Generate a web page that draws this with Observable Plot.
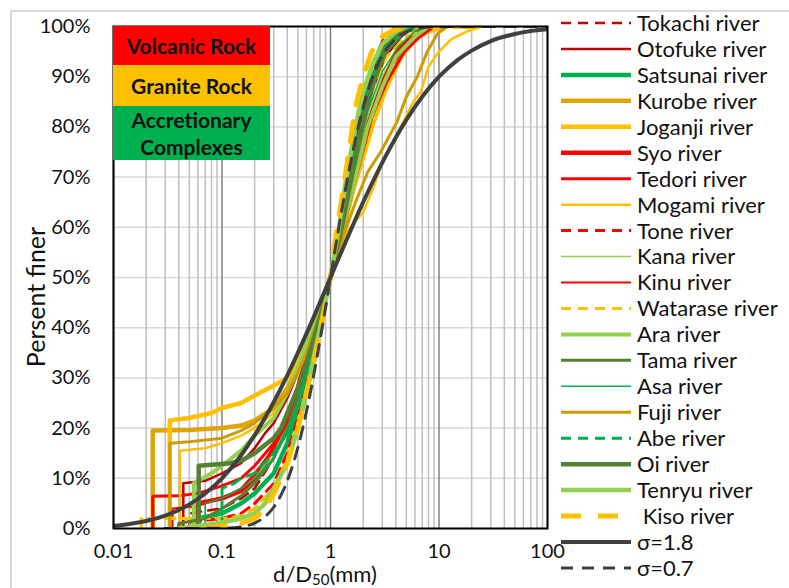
<!DOCTYPE html>
<html><head><meta charset="utf-8">
<script src="https://cdn.jsdelivr.net/npm/d3@7"></script>
<script src="https://cdn.jsdelivr.net/npm/@observablehq/plot@0.6"></script>
<style>
body{margin:0;background:#fff;font-family:Lato,"Open Sans",sans-serif;}
#wrap{position:relative;width:789px;height:588px;overflow:hidden;background:#fff;}
#wrap svg{position:absolute;left:0;top:0;}
.border{position:absolute;left:10px;top:10px;width:900px;height:700px;border-top:2px solid #D9D9D9;border-left:2px solid #D9D9D9;}
.box{position:absolute;left:113px;width:157px;display:flex;align-items:center;justify-content:center;text-align:center;font-weight:bold;font-size:21px;line-height:27px;color:#111;}
.ylab{position:absolute;left:35px;top:297px;transform:translate(-50%,-50%) rotate(-90deg);font-size:25px;line-height:25px;color:#111;white-space:nowrap;}
</style></head><body><div id="wrap"><div class="border"></div></div>
<script>
// ---- data: [d/D50, percent finer] ----
const tokachi = [[0.05,0],[0.05,3],[0.1,4],[0.15,6],[0.2,8],[0.3,14],[0.4,20],[0.5,27],[0.6,33],[0.8,43],[1,50],[1.2,60],[1.5,70],[1.8,80],[2.2,88],[2.8,94],[3.5,98],[4.5,100]];
const otofuke = [[0.044,0],[0.044,9],[0.07,9.5],[0.1,11],[0.15,13],[0.2,16],[0.25,19],[0.3,21],[0.4,26],[0.5,31],[0.6,36],[0.8,44],[1,50],[1.3,62],[1.6,72],[2,81],[2.5,88],[3.2,94],[4.5,98],[6,100]];
const satsunai = [[0.06,0],[0.06,2],[0.1,3],[0.15,5],[0.2,7],[0.3,11],[0.4,17],[0.5,24],[0.6,31],[0.8,42],[1,50],[1.3,62],[1.6,72],[2,82],[2.5,90],[3.2,95],[4.5,98.5],[6,100]];
const kurobe = [[0.023,0],[0.023,19.5],[0.05,19.6],[0.1,20],[0.15,20.5],[0.2,21.5],[0.3,24],[0.4,28],[0.5,32],[0.6,36],[0.8,43],[1,50],[1.3,59],[1.6,68],[2,76],[2.6,85],[3.5,92],[4.5,96],[6,99],[8,100]];
const joganji = [[0.033,0],[0.033,21.5],[0.05,22],[0.08,23],[0.1,24],[0.15,25],[0.2,26.5],[0.3,28.5],[0.4,30],[0.5,33],[0.6,37],[0.8,44],[1,50],[1.3,59],[1.6,67],[2,74],[2.5,81],[3.3,88],[4.5,94],[6,97.5],[8,99],[11,100]];
const syo = [[0.06,0],[0.06,5],[0.1,6],[0.15,7.5],[0.2,10],[0.25,13],[0.3,16],[0.35,19],[0.4,22],[0.5,28],[0.6,34],[0.8,43],[1,50],[1.3,60],[1.6,68],[2,76],[2.5,84],[3.3,91],[4.7,96],[6.5,99],[8,100]];
const tedori = [[0.023,0],[0.023,6.4],[0.04,6.5],[0.06,7],[0.1,8.5],[0.15,10],[0.2,12.5],[0.3,17],[0.4,22],[0.5,28],[0.6,33],[0.8,42],[1,50],[1.3,61],[1.6,70],[2.2,80],[3.3,89],[4.8,95],[6.7,98],[9,100]];
const mogami = [[0.041,0],[0.041,15.5],[0.07,16],[0.1,17],[0.15,18.5],[0.2,20],[0.3,23],[0.4,27],[0.5,31],[0.6,36],[0.8,44],[1,50],[1.4,59],[2,63],[2.5,68],[3,73],[4,78],[5.8,85],[6.8,87],[8,92],[10,95],[13,97.5],[18,99],[25,100]];
const tone = [[0.04,0],[0.04,1],[0.1,2],[0.15,3],[0.2,5],[0.3,9],[0.4,15],[0.5,22],[0.6,29],[0.8,40],[1,50],[1.2,60],[1.4,68],[1.7,78],[2,86],[2.5,93],[3,97],[4,100]];
const kana = [[0.05,0],[0.05,4],[0.1,6],[0.15,8],[0.2,10],[0.3,15],[0.4,21],[0.5,27],[0.6,33],[0.8,42],[1,50],[1.3,61],[1.7,72],[2.2,82],[3,90],[4,95],[5.5,98.5],[7,100]];
const kinu = [[0.035,0],[0.035,4],[0.06,4.5],[0.1,6],[0.15,8],[0.2,11],[0.3,16],[0.4,21],[0.5,27],[0.6,33],[0.8,42],[1,50],[1.3,60],[1.7,71],[2.2,81],[3,89],[4,95],[6,99],[8,100]];
const watarase = [[0.018,0],[0.018,2],[0.03,2],[0.1,2],[0.15,2.5],[0.2,4],[0.3,8],[0.4,14],[0.5,21],[0.6,28],[0.8,40],[1,50],[1.2,59],[1.5,69],[2,80],[2.5,88],[3.3,94],[5,98],[8,100]];
const ara = [[0.055,0],[0.055,9],[0.08,11],[0.1,12.5],[0.15,15.5],[0.2,18.5],[0.3,22],[0.4,27],[0.5,32],[0.6,37],[0.8,44],[1,50],[1.3,60],[1.7,70],[2.2,80],[3,88],[4,94],[6,98],[8,100]];
const tama = [[0.04,0],[0.04,1],[0.07,2],[0.1,4],[0.15,6.5],[0.2,9],[0.3,14],[0.4,20],[0.5,26],[0.6,32],[0.8,42],[1,50],[1.3,62],[1.6,72],[2,82],[2.5,90],[3,95],[4,98.5],[5,100]];
const asa = [[0.07,0],[0.07,5],[0.1,6],[0.15,8],[0.2,10],[0.3,14],[0.4,19],[0.5,25],[0.6,31],[0.8,41],[1,50],[1.3,61],[1.7,73],[2.2,83],[3,91],[4.2,96],[6,99],[8,100]];
const fuji = [[0.033,0],[0.033,17],[0.05,17.3],[0.1,18],[0.15,19.5],[0.2,21],[0.3,24],[0.4,27],[0.5,31],[0.6,35],[0.8,43],[1,50],[1.3,58],[1.7,65],[2.2,71],[2.9,75],[4.1,81],[5,86],[6.3,90],[7.8,95],[9.7,98.6],[12,100]];
const abe = [[0.1,0],[0.1,8],[0.13,9],[0.15,10],[0.2,11],[0.3,15],[0.4,19],[0.5,24],[0.6,30],[0.8,41],[1,50],[1.25,60],[1.5,70],[1.8,80],[2.3,89],[3,95],[4,98.5],[5,100]];
const oi = [[0.061,0],[0.061,12.5],[0.08,12.7],[0.12,13],[0.15,13.5],[0.2,15],[0.3,18],[0.35,20],[0.4,23],[0.5,28],[0.6,33],[0.8,42],[1,50],[1.3,61],[1.6,71],[2,81],[2.5,89],[3.2,95],[4,98],[5,100]];
const tenryu = [[0.04,0],[0.06,0.5],[0.09,1],[0.15,2],[0.2,3],[0.25,5],[0.3,8],[0.4,13],[0.5,20],[0.6,27],[0.7,34],[0.8,40],[1,50],[1.2,60],[1.4,70],[1.7,80],[2,87],[2.5,93],[3,96.5],[4,99],[5,100]];
const kiso = [[0.07,0],[0.1,0.5],[0.15,1],[0.2,2],[0.25,4],[0.3,7],[0.35,10],[0.4,13],[0.5,20],[0.6,27],[0.7,33],[0.8,39],[1,50],[1.15,60],[1.3,67],[1.5,76],[1.7,84],[2,90],[2.4,95],[3,98],[4,99.5],[6,100],[30,100]];
const sigma18 = [[0.01,0.53],[0.012,0.7],[0.015,0.98],[0.02,1.49],[0.03,2.57],[0.05,4.8],[0.07,6.98],[0.1,10.0],[0.15,14.6],[0.2,18.6],[0.3,25.2],[0.4,30.5],[0.5,35.0],[0.7,42.1],[1,50],[1.5,58.9],[2,65.0],[3,72.9],[4,77.9],[5,81.4],[7,86.0],[10,90.0],[15,93.4],[20,95.2],[30,97.1],[50,98.5],[70,99.1],[100,99.47]];
const sigma07 = [[0.03,0],[0.1,0.05],[0.15,0.34],[0.2,1.08],[0.25,2.39],[0.3,4.27],[0.4,9.5],[0.5,16.1],[0.6,23.3],[0.7,30.5],[0.8,37.5],[0.9,44.0],[1,50],[1.2,60.3],[1.5,71.9],[2,83.9],[2.5,90.5],[3,94.2],[4,97.6],[5,98.9],[7,99.73],[10,99.95],[20,100],[100,100]];

const xTickValues = [0.01, 0.1, 1, 10, 100];
const xTickLabels = ["0.01", "0.1", "1", "10", "100"];
const yTickValues = [0,10,20,30,40,50,60,70,80,90,100];
const groupLabels = ["Volcanic Rock", "Granite Rock", "Accretionary Complexes"];

// ---- styles (not data) ----
const series = [
  {name:"Tokachi river", data:tokachi, color:"#C00000", width:2.5, dash:"10,7"},
  {name:"Otofuke river", data:otofuke, color:"#C00000", width:2.5},
  {name:"Satsunai river", data:satsunai, color:"#00B050", width:4.5},
  {name:"Kurobe river", data:kurobe, color:"#DDA50A", width:4.5},
  {name:"Joganji river", data:joganji, color:"#FFC000", width:4.5},
  {name:"Syo river", data:syo, color:"#FF0000", width:4.5},
  {name:"Tedori river", data:tedori, color:"#FF0000", width:3},
  {name:"Mogami river", data:mogami, color:"#FFC000", width:2.5},
  {name:"Tone river", data:tone, color:"#FF0000", width:3, dash:"10,7"},
  {name:"Kana river", data:kana, color:"#92D050", width:1.5},
  {name:"Kinu river", data:kinu, color:"#FF0000", width:2},
  {name:"Watarase river", data:watarase, color:"#FFC000", width:3, dash:"10,7"},
  {name:"Ara river", data:ara, color:"#92D050", width:4},
  {name:"Tama river", data:tama, color:"#548235", width:3},
  {name:"Asa river", data:asa, color:"#00B050", width:1.5},
  {name:"Fuji river", data:fuji, color:"#CC9C00", width:3},
  {name:"Abe river", data:abe, color:"#00B050", width:3, dash:"10,7"},
  {name:"Oi river", data:oi, color:"#548235", width:4.5},
  {name:"Tenryu river", data:tenryu, color:"#92D050", width:4.5},
  {name:" Kiso river", data:kiso, color:"#FFC000", width:5, dash:"20,17"},
  {name:"σ=1.8", data:sigma18, color:"#404040", width:4, curve:"monotone-x"},
  {name:"σ=0.7", data:sigma07, color:"#404040", width:3, dash:"12,9", curve:"monotone-x"}
];

const minorX = d3.range(-2, 2).flatMap(e => d3.range(2, 10).map(m => m * Math.pow(10, e)));

const chart = Plot.plot({
  width: 789, height: 588,
  marginLeft: 113, marginRight: 242, marginTop: 26, marginBottom: 60,
  style: {fontFamily: "Lato, 'Open Sans', sans-serif", fontSize: "20px", color: "#111", background: "transparent", overflow: "visible"},
  x: {type: "log", domain: [0.01, 100]},
  y: {domain: [0, 100]},
  marks: [
    Plot.ruleY(yTickValues, {stroke: "#D9D9D9", strokeWidth: 1.5}),
    Plot.ruleX(minorX, {stroke: "#BFBFBF", strokeWidth: 1.5}),
    Plot.ruleX(xTickValues, {stroke: "#808080", strokeWidth: 1.5}),
    ...series.map(s => Plot.line(s.data, {
      x: d => d[0], y: d => d[1],
      stroke: s.color, strokeWidth: s.width,
      strokeDasharray: s.dash || null,
      curve: s.curve || "linear",
      strokeLinejoin: "round", clip: true
    })),
    Plot.frame({stroke: "#000", strokeWidth: 2}),
    Plot.axisX({ticks: xTickValues, tickFormat: d => xTickLabels[xTickValues.indexOf(d)], tickSize: 0, tickPadding: 15, label: null}),
    Plot.axisY({ticks: yTickValues, tickFormat: d => d + "%", tickSize: 0, tickPadding: 23, label: null})
  ]
});
const wrap = document.getElementById("wrap");
wrap.appendChild(chart);

// group boxes
const boxes = [
  {label: groupLabels[0], top: 26, h: 39, bg: "#FF0000"},
  {label: groupLabels[1], top: 65, h: 41, bg: "#FFC000"},
  {label: groupLabels[2], top: 106, h: 54, bg: "#00B050"}
];
boxes.forEach(b => {
  const d = document.createElement("div");
  d.className = "box";
  d.style.top = b.top + "px"; d.style.height = b.h + "px"; d.style.background = b.bg;
  if (b.label === "Accretionary Complexes") { d.innerHTML = "Accretionary<br>Complexes"; d.style.lineHeight = "27px"; }
  else d.textContent = b.label;
  wrap.appendChild(d);
});

// y axis title
const yl = document.createElement("div"); yl.className = "ylab"; yl.textContent = "Persent finer"; wrap.appendChild(yl);

// legend + x axis title
const lg = d3.select(wrap).append("svg").attr("width", 789).attr("height", 588)
  .style("pointer-events", "none");
const xt = lg.append("text").attr("x", 325).attr("y", 582).attr("text-anchor", "middle")
  .attr("font-family", "Lato, 'Open Sans', sans-serif").attr("font-size", 22).attr("fill", "#111");
xt.append("tspan").text("d/D");
xt.append("tspan").attr("font-size", 15).attr("dy", 3).text("50");
xt.append("tspan").attr("dy", -3).text("(mm)");
series.forEach((s, i) => {
  const y = 23 + i * 25.95;
  lg.append("line").attr("x1", 561).attr("x2", 631).attr("y1", y).attr("y2", y)
    .attr("stroke", s.color).attr("stroke-width", s.width)
    .attr("stroke-dasharray", s.dash || null);
  lg.append("text").attr("x", 637).attr("y", y).attr("dy", "0.36em")
    .attr("font-family", "Lato, 'Open Sans', sans-serif").attr("font-size", 22)
    .attr("fill", "#111").attr("xml:space", "preserve").style("white-space", "pre").text(s.name);
});
</script></body></html>
